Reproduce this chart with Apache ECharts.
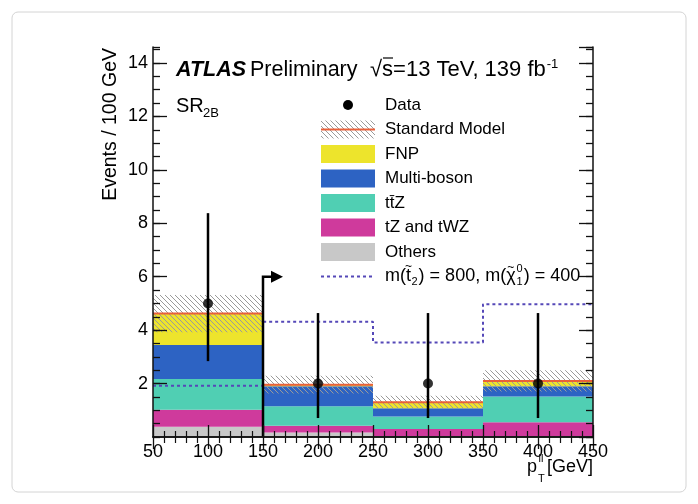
<!DOCTYPE html>
<html><head><meta charset="utf-8">
<script src="https://cdn.jsdelivr.net/npm/echarts@6/dist/echarts.min.js"></script>
<style>html,body{margin:0;padding:0;background:#fff}#c{width:698px;height:504px}</style>
</head><body><div id="c"></div>
<script>
// ---- data ----
const binEdges   = [50, 150, 250, 350, 450];
const others     = [0.38, 0.17, 0.04, 0.03];
const tzTwz      = [0.64, 0.25, 0.26, 0.52];
const ttz        = [1.15, 0.73, 0.47, 0.97];
const multiBoson = [1.27, 0.75, 0.31, 0.38];
const fnp        = [1.18, 0.06, 0.22, 0.20];
const smUnc      = [0.70, 0.33, 0.24, 0.40];
const dataX      = [100, 200, 300, 400];
const dataY      = [5, 2, 2, 2];
const dataLo     = [2.84, 0.71, 0.71, 0.71];
const dataHi     = [8.38, 4.64, 4.64, 4.64];
const signal     = [1.92, 4.31, 3.54, 4.97];
const cutX = [150];
const cutH = [6];
const xTickLabels = ['50','100','150','200','250','300','350','400','450'];
const yTickLabels = ['2','4','6','8','10','12','14'];

const FONT = 'Liberation Sans, Arial, Helvetica, sans-serif';
const YMAX = 14.6;

function makeHatch(){
  const c = document.createElement('canvas'); c.width = 5; c.height = 5;
  const g = c.getContext('2d'); g.strokeStyle = '#9a9a9a'; g.lineWidth = 1;
  g.beginPath(); g.moveTo(-1,-1); g.lineTo(6,6); g.moveTo(-1,4); g.lineTo(1,6); g.moveTo(4,-1); g.lineTo(6,1); g.stroke();
  return c;
}
const hatchImg = makeHatch();
const hatchFill = {image: hatchImg, repeat: 'repeat'};

const measureCtx = document.createElement('canvas').getContext('2d');
function tw(text, size){ measureCtx.font = size + 'px ' + FONT; return measureCtx.measureText(text).width; }

function rectItem(params, api){
  const p0 = api.coord([api.value(0), api.value(3)]);
  const p1 = api.coord([api.value(1), api.value(2)]);
  return {type:'rect', shape:{x:p0[0], y:p0[1], width:p1[0]-p0[0], height:p1[1]-p0[1]}, style:{fill: api.visual('color')}};
}

const nb = binEdges.length - 1;
const components = [
  {name:'Others', vals: others, color:'#c8c8c8'},
  {name:'tZ and tWZ', vals: tzTwz, color:'#cf3a9c'},
  {name:'ttZ', vals: ttz, color:'#50cfb3'},
  {name:'Multi-boson', vals: multiBoson, color:'#2d63c3'},
  {name:'FNP', vals: fnp, color:'#ede42c'}
];
const cum = new Array(nb).fill(0);
const series = [];
components.forEach(c => {
  const d = [];
  for (let i = 0; i < nb; i++){ d.push([binEdges[i], binEdges[i+1], cum[i], cum[i] + c.vals[i]]); cum[i] += c.vals[i]; }
  series.push({type:'custom', name:c.name, renderItem: rectItem, data: d, itemStyle:{color:c.color},
    encode:{x:[0,1], y:[2,3]}, z:2, silent:true});
});
// uncertainty hatch
const hatchData = [];
for (let i = 0; i < nb; i++) hatchData.push([binEdges[i], binEdges[i+1], cum[i]-smUnc[i], cum[i]+smUnc[i]]);
series.push({type:'custom', name:'SM unc', data: hatchData, encode:{x:[0,1], y:[2,3]}, z:3, silent:true,
  renderItem: function(params, api){
    const p0 = api.coord([api.value(0), api.value(3)]);
    const p1 = api.coord([api.value(1), api.value(2)]);
    return {type:'rect', shape:{x:p0[0], y:p0[1], width:p1[0]-p0[0], height:p1[1]-p0[1]}, style:{fill: hatchFill}};
  }});
// SM total line
const smData = [];
for (let i = 0; i < nb; i++) smData.push([binEdges[i], binEdges[i+1], cum[i]]);
series.push({type:'custom', name:'Standard Model', data: smData, encode:{x:[0,1], y:2}, z:4, silent:true,
  renderItem: function(params, api){
    const a = api.coord([api.value(0), api.value(2)]);
    const b = api.coord([api.value(1), api.value(2)]);
    return {type:'line', shape:{x1:a[0], y1:a[1], x2:b[0], y2:b[1]}, style:{stroke:'#e8603a', lineWidth:2}};
  }});
// signal step line
const sigPts = [];
for (let i = 0; i < nb; i++){ sigPts.push([binEdges[i], signal[i]]); sigPts.push([binEdges[i+1], signal[i]]); }
series.push({type:'line', name:'signal', data: sigPts, symbol:'none', z:5, silent:true,
  lineStyle:{color:'#5548b8', width:2, type:[3,3]}});
// cut arrow
series.push({type:'custom', name:'cut', data: cutX.map((x,i)=>[x, cutH[i]]), encode:{x:0, y:1}, z:6, silent:true,
  renderItem: function(params, api){
    const base = api.coord([api.value(0), 0]);
    const top = api.coord([api.value(0), api.value(1)]);
    return {type:'group', children:[
      {type:'polyline', shape:{points:[base, top, [top[0]+9, top[1]]]}, style:{stroke:'#000', lineWidth:2.5, fill:null}},
      {type:'polygon', shape:{points:[[top[0]+8, top[1]-6],[top[0]+20, top[1]],[top[0]+8, top[1]+6]]}, style:{fill:'#000'}}
    ]};
  }});
// data error bars
series.push({type:'custom', name:'Data err', data: dataX.map((x,i)=>[x, dataLo[i], dataHi[i]]), encode:{x:0, y:[1,2]}, z:7, silent:true,
  renderItem: function(params, api){
    const a = api.coord([api.value(0), api.value(1)]);
    const b = api.coord([api.value(0), api.value(2)]);
    return {type:'line', shape:{x1:a[0], y1:a[1], x2:b[0], y2:b[1]}, style:{stroke:'#000', lineWidth:2.5}};
  }});
series.push({type:'scatter', name:'Data', data: dataX.map((x,i)=>[x, dataY[i]]), symbol:'circle', symbolSize:10,
  itemStyle:{color:'#000'}, z:8, silent:true});

const axLine = {show:true, lineStyle:{color:'#111', width:1.5}};
function xAx(pos, labels){
  return {type:'value', position:pos, min:50, max:450, interval:50, z:10,
    axisLine: axLine, splitLine:{show:false},
    axisTick:{show:true, inside:true, length:12, lineStyle:{color:'#111', width:1.3}},
    minorTick:{show:true, splitNumber:5, length:6, lineStyle:{color:'#111', width:1.2}},
    axisLabel:{show:labels, margin:6, color:'#000', fontSize:18, fontFamily:FONT,
      formatter: v => { const i = xTickLabels.indexOf(String(v)); return i >= 0 ? xTickLabels[i] : ''; }}};
}
function yAx(pos, major, labels){
  return {type:'value', position:pos, min:0, max:YMAX, interval: major ? 2 : 0.5, z:10,
    axisLine: major ? axLine : {show:false}, splitLine:{show:false},
    axisTick:{show:true, inside:true, length: major ? 14 : 7, lineStyle:{color:'#111', width:1.3}},
    axisLabel:{show:labels, margin:5, color:'#000', fontSize:18, fontFamily:FONT, showMinLabel:false, showMaxLabel:false,
      formatter: v => { const i = yTickLabels.indexOf(String(v)); return i >= 0 ? yTickLabels[i] : ''; }}};
}

const T = (text, x, y, size, extra) => ({type:'text', x:x, y:y, silent:true, z:20,
  style: Object.assign({text:text, fontSize:size, fontFamily:FONT, fill:'#000', align:'left', verticalAlign:'middle'}, extra||{})});

const legX0 = 321, legW = 54, legTextX = 385;
const rowY = [105, 129.5, 154, 178.5, 203, 227.5, 252, 276.5];
const legendBoxes = components.slice().reverse(); // FNP, MB, ttZ, tZ, Others
const legendNames = ['FNP', 'Multi-boson', 'tt\u0304Z', 'tZ and tWZ', 'Others'];
const graphics = [
  {type:'rect', shape:{x:12, y:12, width:674, height:480, r:6}, style:{fill:'none', stroke:'#d4d4d4', lineWidth:1}, silent:true, z:0},
  T('ATLAS', 176, 70, 21.5, {fontWeight:'bold', fontStyle:'italic'}),
  T('Preliminary', 250, 70, 21.5),
  T('\u221As=13 TeV, 139 fb{sup|-1}', 370, 70, 22, {rich:{sup:{fontSize:13, fontFamily:FONT, padding:[0,0,11,1]}}}),
  {type:'line', shape:{x1:383, y1:58, x2:393, y2:58}, style:{stroke:'#000', lineWidth:1.2}, silent:true, z:20},
  T('SR', 176, 106, 20),
  T('2B', 203, 113, 13),
  {type:'circle', shape:{cx:348, cy:rowY[0], r:5}, style:{fill:'#000'}, silent:true, z:20},
  T('Data', legTextX, rowY[0], 17),
  {type:'rect', shape:{x:legX0, y:rowY[1]-9, width:legW, height:18}, style:{fill:hatchFill}, silent:true, z:20},
  {type:'line', shape:{x1:legX0, y1:rowY[1], x2:legX0+legW, y2:rowY[1]}, style:{stroke:'#e8603a', lineWidth:2}, silent:true, z:21},
  T('Standard Model', legTextX, rowY[1], 17),
  {type:'line', shape:{x1:legX0, y1:rowY[7], x2:legX0+legW, y2:rowY[7]}, style:{stroke:'#5548b8', lineWidth:2, lineDash:[3,3]}, silent:true, z:20},
  // x axis title
  T('p', 527, 467, 18),
  T('ll', 538.5, 459, 11),
  T('T', 538, 479, 11),
  T('[GeV]', 593, 467, 18, {align:'right'}),
  // y axis title
  {type:'text', x:110.5, y:48, rotation:Math.PI/2, silent:true, z:20,
   style:{text:'Events / 100 GeV', fontSize:19.5, fontFamily:FONT, fill:'#000', align:'right', verticalAlign:'middle'}}
];
legendBoxes.forEach((c, i) => {
  graphics.push({type:'rect', shape:{x:legX0, y:rowY[i+2]-9, width:legW, height:18}, style:{fill:c.color}, silent:true, z:20});
  graphics.push(T(legendNames[i], legTextX, rowY[i+2], 17));
});
// signal legend label: m(t~_2) = 800, m(chi~^0_1) = 400  built from pieces
(function(){
  const S = 18, s = 11, y = rowY[7];
  let x = legTextX;
  const add = (txt, xx, yy, sz, extra) => graphics.push(T(txt, xx, yy, sz, extra));
  add('m(t', x, y, S); x += tw('m(t', S);
  add('~', x - tw('t', S)/2, y - 10, 12, {align:'center'});
  add('2', x + 0.5, y + 5, s); x += tw('2', s) + 1.5;
  add(') = 800, m(\u03c7', x, y, S); x += tw(') = 800, m(\u03c7', S);
  add('~', x - tw('\u03c7', S)/2, y - 9, 12, {align:'center'});
  add('0', x + 1, y - 8, s);
  add('1', x + 1, y + 5, s); x += tw('0', s) + 2;
  add(') = 400', x, y, S);
})();

const chart = echarts.init(document.getElementById('c'), null, {renderer:'canvas'});
chart.setOption({
  animation:false,
  backgroundColor:'#fff',
  grid:{left:153, right:105, top:47, bottom:67, containLabel:false, outerBoundsMode:'none'},
  xAxis:[xAx('bottom', true), xAx('top', false)],
  yAxis:[yAx('left', true, true), yAx('left', false, false), yAx('right', true, false), yAx('right', false, false)],
  series: series,
  graphic: graphics
});
</script></body></html>
